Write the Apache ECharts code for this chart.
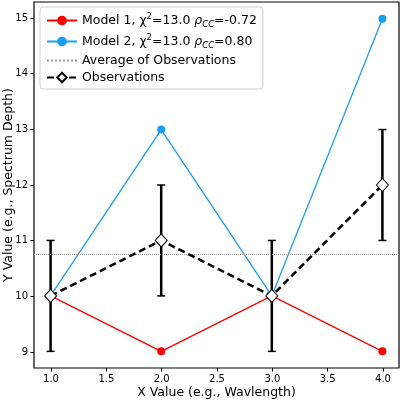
<!DOCTYPE html>
<html>
<head>
<meta charset="utf-8">
<script src="https://cdn.jsdelivr.net/npm/echarts@6/dist/echarts.min.js"></script>
<style>
  html, body { margin: 0; padding: 0; background: #fff; }
  #main { width: 400px; height: 400px; }
</style>
</head>
<body>
<div id="main"></div>
<script>
// data
var xValues = [1, 2, 3, 4];
var model1 = [10, 9, 10, 9];
var model2 = [10, 13, 10, 15];
var observations = [10, 11, 10, 12];
var obsErrors = [1, 1, 1, 1];
var model1Label = 'Model 1, χ{sup|2}=13.0 {it|ρ}{sub|CC}=-0.72';
var model2Label = 'Model 2, χ{sup|2}=13.0 {it|ρ}{sub|CC}=0.80';

var avg = observations.reduce(function (a, b) { return a + b; }, 0) / observations.length;

function pairs(ys) {
  return xValues.map(function (x, i) { return [x, ys[i]]; });
}
var errData = xValues.map(function (x, i) {
  return [x, observations[i] - obsErrors[i], observations[i] + obsErrors[i]];
});

var font = 'DejaVu Sans';
var chart = echarts.init(document.getElementById('main'));

chart.setOption({
  animation: false,
  textStyle: { fontFamily: font },
  grid: [
    // data grid (box)
    { left: 34, right: 1, top: 2, bottom: 32, outerBoundsMode: 'none', containLabel: false,
      show: true, borderColor: '#000', borderWidth: 1.2, backgroundColor: 'transparent' },
    // tick grid, placed so 1..4 and 9..15 land where the data grid puts them
    { left: 51, right: 17, top: 18, bottom: 48, outerBoundsMode: 'none', containLabel: false }
  ],
  xAxis: [
    {
      gridIndex: 0, type: 'value', min: 0.85, max: 4.15,
      axisLine: { show: false }, axisTick: { show: false }, axisLabel: { show: false }, splitLine: { show: false },
      name: 'X Value (e.g., Wavlength)', nameLocation: 'middle', nameGap: 18, nameMoveOverlap: false,
      nameTextStyle: { color: '#000', fontSize: 12.5 }
    },
    {
      gridIndex: 1, type: 'value', min: 1, max: 4, interval: 0.5, offset: 16,
      axisLine: { show: false }, splitLine: { show: false },
      axisTick: { show: true, length: 3.5, lineStyle: { color: '#000' } },
      axisLabel: { color: '#000', fontSize: 10, margin: 6, formatter: function (v) { return v.toFixed(1); } }
    }
  ],
  yAxis: [
    {
      gridIndex: 0, type: 'value', min: 8.7, max: 15.3,
      axisLine: { show: false }, axisTick: { show: false }, axisLabel: { show: false }, splitLine: { show: false },
      name: 'Y Value (e.g., Spectrum Depth)', nameLocation: 'middle', nameGap: 19, nameMoveOverlap: false,
      nameTextStyle: { color: '#000', fontSize: 12.5 }
    },
    {
      gridIndex: 1, type: 'value', min: 9, max: 15, interval: 1, offset: 17,
      axisLine: { show: false }, splitLine: { show: false },
      axisTick: { show: true, length: 3.5, lineStyle: { color: '#000' } },
      axisLabel: { color: '#000', fontSize: 10, margin: 6 }
    }
  ],
  legend: {
    left: 40, top: 7,
    orient: 'vertical',
    itemGap: 4,
    itemWidth: 30, itemHeight: 12,
    padding: [5, 6, 5, 6],
    backgroundColor: 'rgba(255,255,255,0.8)',
    borderColor: '#d0d0d0', borderWidth: 1, borderRadius: 3,
    textStyle: {
      color: '#000', fontSize: 12.5, fontFamily: font,
      rich: {
        sup: { fontSize: 8.5, verticalAlign: 'top', padding: [0, 0, 8, 0], color: '#000' },
        sub: { fontSize: 8.5, verticalAlign: 'bottom', padding: [6, 0, 0, 0], fontStyle: 'italic', color: '#000' },
        it: { fontStyle: 'italic', fontSize: 12.5, color: '#000' }
      }
    },
    data: [
      { name: 'm1' }, { name: 'm2' },
      { name: 'Average of Observations', itemStyle: { opacity: 0 } },
      { name: 'Observations' }
    ],
    formatter: function (name) {
      if (name === 'm1') return model1Label;
      if (name === 'm2') return model2Label;
      return name;
    }
  },
  series: [
    {
      name: 'm1', type: 'line', xAxisIndex: 0, yAxisIndex: 0,
      data: pairs(model1), color: '#f00',
      symbol: 'circle', symbolSize: 8,
      lineStyle: { width: 1.3, color: '#f00' }, itemStyle: { color: '#f00' }, z: 2
    },
    {
      name: 'm2', type: 'line', xAxisIndex: 0, yAxisIndex: 0,
      data: pairs(model2), color: '#1a9cf2',
      symbol: 'circle', symbolSize: 8,
      lineStyle: { width: 1.3, color: '#1a9cf2' }, itemStyle: { color: '#1a9cf2' }, z: 3
    },
    {
      name: 'Average of Observations', type: 'line', xAxisIndex: 0, yAxisIndex: 0,
      data: [], symbol: 'none', color: '#999',
      lineStyle: { type: 'dotted', width: 1, color: '#999' },
      markLine: {
        silent: true, symbol: 'none', label: { show: false },
        lineStyle: { type: 'dotted', width: 1, color: '#999' },
        data: [{ yAxis: avg }]
      },
      z: 1
    },
    {
      name: 'Observations', type: 'line', xAxisIndex: 0, yAxisIndex: 0,
      data: pairs(observations), color: '#000',
      symbol: 'diamond', symbolSize: [12, 13],
      lineStyle: { type: [7, 4], width: 2.5, color: '#000' },
      itemStyle: { color: '#fff', borderColor: '#000', borderWidth: 1 },
      z: 5
    },
    {
      name: 'Observations', type: 'custom', xAxisIndex: 0, yAxisIndex: 0,
      data: errData, z: 4, color: '#000',
      renderItem: function (params, api) {
        var top = api.coord([api.value(0), api.value(2)]);
        var bot = api.coord([api.value(0), api.value(1)]);
        var cw = 4;
        return {
          type: 'group',
          children: [
            { type: 'line', shape: { x1: top[0], y1: top[1], x2: bot[0], y2: bot[1] }, style: { stroke: '#000', lineWidth: 2.5 } },
            { type: 'line', shape: { x1: top[0] - cw, y1: top[1], x2: top[0] + cw, y2: top[1] }, style: { stroke: '#000', lineWidth: 1.5 } },
            { type: 'line', shape: { x1: bot[0] - cw, y1: bot[1], x2: bot[0] + cw, y2: bot[1] }, style: { stroke: '#000', lineWidth: 1.5 } }
          ]
        };
      }
    }
  ]
});
</script>
</body>
</html>
